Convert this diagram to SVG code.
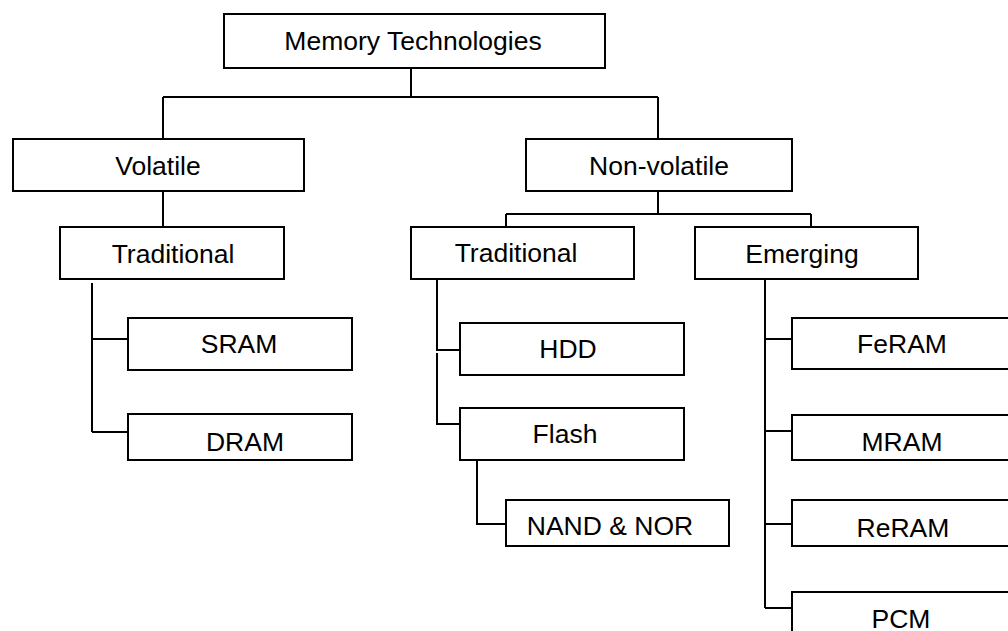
<svg xmlns="http://www.w3.org/2000/svg" width="1008" height="631" viewBox="0 0 1008 631">
  <style>
    .box { fill: #fff; stroke: #000; stroke-width: 2; }
    .lbl { font-family: "Liberation Sans", Arial, sans-serif; font-size: 26.5px; fill: #000; text-anchor: middle; }
    .wire { fill: none; stroke: #000; stroke-width: 2; }
  </style>
  <rect width="1008" height="631" fill="#fff"/>

  <!-- tree connectors -->
  <g id="connectors" class="wire">
    <path d="M411,68 V97 M163,97 H658 M163,97 V139 M658,97 V139"/>
    <path d="M163,191 V227"/>
    <path d="M92,283 V432 M92,339 H128 M92,432 H128"/>
    <path d="M658,191 V214 M506,214 H811 M506,214 V227 M811,214 V227"/>
    <path d="M437,279 V350 H460 M437,353 V424 H460"/>
    <path d="M477,460 V524 H506"/>
    <path d="M765,279 V608 M765,339 H792 M765,431 H792 M765,524 H792 M765,608 H792"/>
  </g>

  <g id="memory-technologies">
    <rect class="box" x="224" y="14" width="381" height="54"/>
    <text class="lbl" x="413" y="50">Memory Technologies</text>
  </g>
  <g id="volatile">
    <rect class="box" x="13" y="139" width="291" height="52"/>
    <text class="lbl" x="158" y="175">Volatile</text>
  </g>
  <g id="non-volatile">
    <rect class="box" x="526" y="139" width="266" height="52"/>
    <text class="lbl" x="659" y="175">Non-volatile</text>
  </g>
  <g id="volatile-traditional">
    <rect class="box" x="60" y="227" width="224" height="52"/>
    <text class="lbl" x="173" y="263">Traditional</text>
  </g>
  <g id="sram">
    <rect class="box" x="128" y="318" width="224" height="52"/>
    <text class="lbl" x="239" y="353">SRAM</text>
  </g>
  <g id="dram">
    <rect class="box" x="128" y="414" width="224" height="46"/>
    <text class="lbl" x="245" y="451">DRAM</text>
  </g>
  <g id="nonvolatile-traditional">
    <rect class="box" x="411" y="227" width="223" height="52"/>
    <text class="lbl" x="516" y="262">Traditional</text>
  </g>
  <g id="hdd">
    <rect class="box" x="460" y="323" width="224" height="52"/>
    <text class="lbl" x="568" y="358">HDD</text>
  </g>
  <g id="flash">
    <rect class="box" x="460" y="408" width="224" height="52"/>
    <text class="lbl" x="565" y="443">Flash</text>
  </g>
  <g id="nand-nor">
    <rect class="box" x="506" y="500" width="223" height="46"/>
    <text class="lbl" x="610" y="535">NAND &amp; NOR</text>
  </g>
  <g id="emerging">
    <rect class="box" x="695" y="227" width="223" height="52"/>
    <text class="lbl" x="802" y="263">Emerging</text>
  </g>
  <g id="feram">
    <rect class="box" x="792" y="318" width="240" height="51"/>
    <text class="lbl" x="902" y="353">FeRAM</text>
  </g>
  <g id="mram">
    <rect class="box" x="792" y="415" width="240" height="45"/>
    <text class="lbl" x="902" y="451">MRAM</text>
  </g>
  <g id="reram">
    <rect class="box" x="792" y="500" width="240" height="46"/>
    <text class="lbl" x="903" y="537">ReRAM</text>
  </g>
  <g id="pcm">
    <rect class="box" x="792" y="592" width="240" height="60"/>
    <text class="lbl" x="901" y="628">PCM</text>
  </g>
</svg>
